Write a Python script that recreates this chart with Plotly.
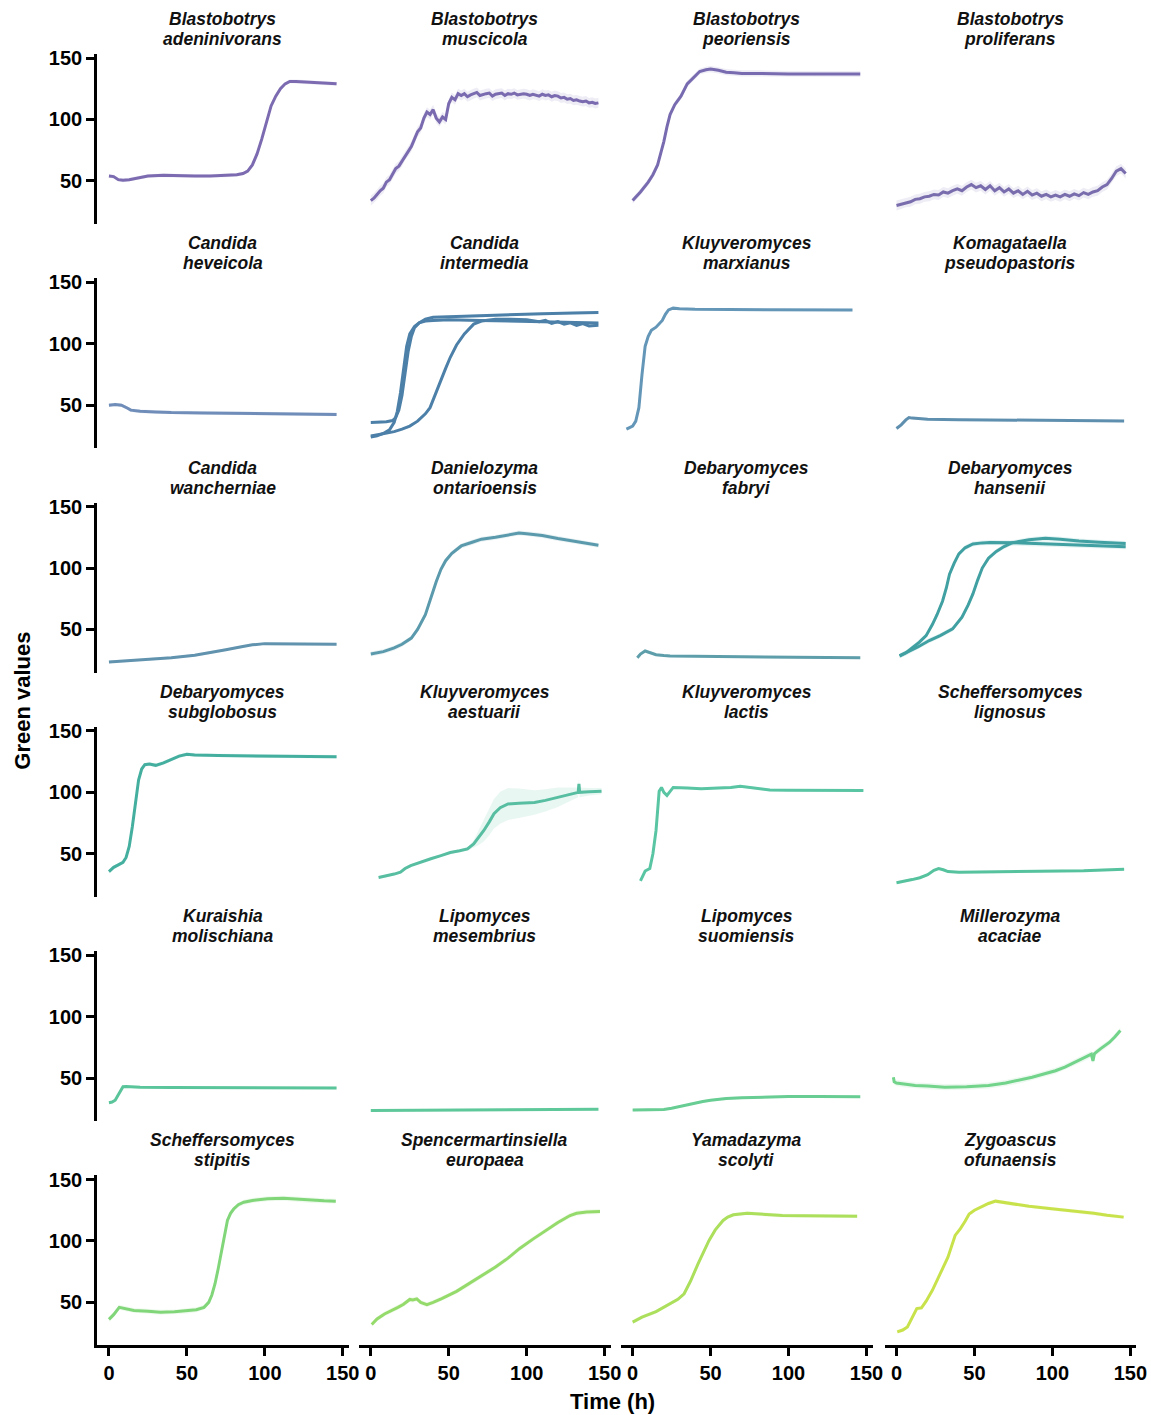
import plotly.graph_objects as go

# ---------------- data (time in h, green values) ----------------
t_b_aden = [0, 3, 6, 9, 13, 18, 25, 35, 45, 55, 65, 75, 82, 86, 89, 92, 95, 98, 101, 104, 107, 110, 113, 116, 120, 125, 130, 135, 140, 146]
g_b_aden = [54, 53.5, 51, 50.5, 51, 52.5, 54, 54.5, 54, 54, 54, 54.5, 55, 56, 58, 63, 72, 84, 98, 111, 119, 125, 129, 131, 131, 130.5, 130, 129.5, 129.5, 129]

t_b_musc = list(range(0, 148, 2))
g_b_musc = [34, 36, 39, 42, 44, 49, 51, 55, 60, 62, 66, 71, 74, 78, 84, 90, 93, 101, 106, 104,
            108, 101, 98, 102, 100, 113, 118, 116, 121, 119.5, 121, 118.5, 120, 121, 122, 119.5, 120.5, 121, 121.5, 119,
            120.5, 121, 121.5, 119.5, 121, 120.5, 121.5, 120, 120.5, 121, 120.5, 119.5, 120.5, 120, 119, 120.5, 119.5, 120, 118.5, 119.5,
            119, 117.5, 118, 116.5, 117, 115.5, 116, 115, 114.5, 115, 113.5, 114, 113, 113.5]

t_b_peor = [0, 5, 10, 13, 16, 18, 20, 22, 24, 27, 31, 35, 39, 43, 47, 50, 55, 60, 65, 70, 80, 90, 100, 110, 120, 130, 140, 146]
g_b_peor = [34, 41, 49, 55, 63, 72, 82, 94, 104, 112, 119, 129, 134, 139, 140.5, 141, 140, 138.5, 138, 137.5, 137.5, 137, 137, 137, 137, 137, 137, 137]

t_b_prol = list(range(0, 148, 3))
g_b_prol = [30, 31, 32.5, 33, 35, 35.5, 37, 37.5, 39, 38.5, 41, 40, 42, 43.5, 42, 45, 47, 44.5, 46, 43,
            46, 42, 44.5, 41, 43.5, 40, 42, 39, 41.5, 38.5, 40, 37.5, 39, 37, 38.5, 37, 39, 37.5, 39.5, 38,
            40.5, 39, 41, 42, 45, 47, 52, 58, 60, 56]

t_c_heve = [0, 4, 8, 10, 12, 14, 17, 20, 30, 40, 60, 80, 100, 120, 146]
g_c_heve = [50, 50.5, 50, 49, 47.5, 46, 45.3, 45, 44.5, 44, 43.7, 43.4, 43.2, 43, 42.5]

t_c_inte_a = [0, 5, 10, 14, 16, 18, 20, 22, 24, 26, 28, 31, 35, 40, 50, 70, 90, 110, 130, 146]
g_c_inte_a = [36, 36, 36.5, 37.5, 40, 46, 58, 76, 94, 106, 113, 117, 120, 121.5, 122, 122.5, 123.5, 124.5, 125, 125.5]
t_c_inte_b = [0, 4, 8, 12, 15, 17, 19, 21, 23, 25, 28, 31, 35, 40, 50, 70, 90, 110, 130, 146]
g_c_inte_b = [24, 25, 27, 30, 36, 45, 60, 80, 98, 108, 114, 117, 118.5, 119, 119.5, 119, 118.5, 118, 117.5, 117]
t_c_inte_c = [0, 5, 10, 15, 20, 25, 30, 35, 38, 41, 45, 48, 51, 55, 60, 66, 71, 80, 90, 100, 108, 112, 116, 120, 124, 128, 132, 136, 140, 146]
g_c_inte_c = [25, 26, 27, 28.5, 30.5, 33, 37, 43, 48, 58, 70, 80, 89, 99, 108, 116, 118.5, 120, 120, 119.5, 118, 119, 116.5, 118, 116, 117, 115, 116.5, 114.5, 115]

t_k_marx = [-4, -2, 0, 2, 4, 6, 8, 10, 12, 15, 17, 19, 21, 23, 26, 30, 40, 60, 80, 100, 120, 141]
g_k_marx = [30.5, 31.5, 33, 37, 48, 75, 98, 106, 111, 113.5, 116, 119, 124, 127.5, 129, 128.5, 128, 128, 128, 128, 128, 127.5]

t_k_pseu = [0, 3, 6, 8, 10, 14, 20, 40, 60, 80, 100, 120, 146]
g_k_pseu = [31, 34, 38, 40, 39.5, 39, 38.5, 38.2, 38, 37.8, 37.6, 37.4, 37.2]

t_c_wanc = [0, 20, 40, 55, 65, 75, 85, 92, 100, 110, 120, 146]
g_c_wanc = [23.5, 25, 27, 29, 31, 33.5, 36, 37.5, 38.5, 38.5, 38.5, 38]

t_d_onta = [0, 8, 15, 20, 26, 30, 35, 38, 42, 45, 48, 52, 58, 65, 71, 80, 90, 95, 100, 110, 120, 130, 140, 146]
g_d_onta = [30, 32, 35, 38, 43, 50, 62, 74, 89, 99, 106, 112, 118, 121, 123.5, 125, 127.5, 128.5, 128, 126.5, 124, 122, 120, 118.5]

t_d_fabr = [3, 5, 8, 11, 15, 20, 24, 40, 60, 80, 100, 120, 146]
g_d_fabr = [27, 30, 32.5, 31, 29.5, 28.8, 28.5, 28.2, 28, 27.8, 27.5, 27.3, 27]

t_d_hans_a = [2, 6, 10, 14.5, 19, 23, 26, 29.5, 32, 34, 37, 40, 44, 49, 55, 60, 80, 100, 120, 147]
g_d_hans_a = [28.5, 31, 35, 39.5, 45, 54, 62, 73, 84, 95, 104, 111.5, 116.5, 119.6, 120.5, 120.8, 120.5, 119.5, 118.5, 117.3]
t_d_hans_b = [2, 8, 14, 21, 28, 36, 42, 46, 49, 52, 55, 59, 64, 69, 74, 85, 95.5, 105, 117, 130, 147]
g_d_hans_b = [28.5, 32, 36, 41, 45, 50.5, 60, 70, 79, 90, 100, 108, 113.6, 117.5, 120.5, 123, 124.3, 123.5, 122, 121, 120]

t_d_subg = [0, 3, 6, 9, 11, 13, 15, 17, 19, 21, 23, 26, 30, 35, 40, 45, 50, 55, 70, 90, 110, 130, 146]
g_d_subg = [35.5, 39, 41, 43, 47, 56, 72, 92, 110, 119, 122.5, 123, 122, 124, 127, 129.5, 131, 130.5, 130, 129.8, 129.5, 129, 129]

t_k_aest = [5, 10, 15, 19, 22, 25.6, 30, 38.5, 45, 51, 57, 62, 66, 69, 72.5, 76, 79, 83, 88, 95, 105, 112, 120, 127, 133, 133.5, 134, 140, 148]
g_k_aest = [30.7, 32, 33.5, 35, 38, 40.4, 42.5, 46, 48.5, 51, 52.5, 54, 58, 63, 69, 76, 82.6, 87.5, 90.6, 91.2, 91.7, 93.5, 96, 98, 100, 107, 100, 100.5, 101]
sd_k_aest = [1, 1, 1, 1, 1, 1, 1, 1, 1, 1, 1, 1.5, 3, 6, 9, 11, 12, 13, 13, 12, 10, 9, 8, 6, 4, 4, 4, 3, 2.5]

t_k_lact = [5, 8, 11, 13, 15, 17, 18.5, 20, 22, 24, 26, 35, 44, 55, 63, 69, 75, 88, 100, 120, 148]
g_k_lact = [28, 36, 38, 50, 69, 101, 104, 100, 97.5, 101, 104, 103.5, 103, 103.5, 104, 105, 104, 102, 101.8, 101.6, 101.6]

t_s_lign = [0, 5, 10, 15, 20, 24, 27, 30, 33, 40, 60, 80, 100, 120, 146]
g_s_lign = [26.5, 27.5, 29, 30.5, 33, 36.5, 38, 37, 35.5, 35, 35.2, 35.5, 35.8, 36.3, 37.5]

t_k_moli = [0, 2, 4, 6, 7.5, 9, 11, 15, 20, 40, 60, 80, 100, 120, 146]
g_k_moli = [30, 30.5, 32, 36, 40, 43, 43.2, 42.8, 42.5, 42.3, 42.3, 42.4, 42.5, 42.2, 42]

t_l_mese = [0, 20, 40, 60, 80, 100, 120, 146]
g_l_mese = [23.7, 23.8, 24, 24.2, 24.4, 24.5, 24.6, 24.7]

t_l_suom = [0, 10, 20, 25, 30, 35, 40, 45, 50, 55, 60, 70, 80, 100, 120, 146]
g_l_suom = [24, 24, 24.5, 25.5, 27, 28.5, 30, 31, 32, 32.8, 33.4, 34, 34.5, 35, 35, 34.8]

t_m_acac = [-2, -1.5, 0, 5, 12, 20, 31, 45, 59, 70, 80, 87, 95, 102, 108, 114, 120, 125, 126, 127, 131, 136.5, 140, 143.6]
g_m_acac = [50.7, 47, 46, 45, 44, 43.5, 42.6, 43, 44, 46, 48.5, 50.7, 53.5, 56, 59, 62.5, 66, 69.5, 64, 70, 74, 79, 83.5, 88.7]

t_s_stip = [0, 3, 6.6, 10, 16, 25, 33, 42, 50, 56, 61, 64, 66, 68, 70, 72, 74, 76, 78, 80, 83, 86.5, 92, 101.7, 112, 120, 129.5, 138, 145.5]
g_s_stip = [36.2, 40, 46, 45, 43.5, 42.8, 42, 42.3, 43, 44, 46, 50, 56, 65, 77, 90, 103, 116.7, 122.5, 126, 129.5, 131.5, 133, 134.4, 134.8, 134, 133, 132.7, 132.4]

t_s_euro = [0.6, 4, 8.8, 13, 17.4, 21, 25, 27, 29.5, 32, 36, 40, 45.5, 55, 62.8, 70, 80, 88, 95.5, 104, 112.6, 120, 127.8, 132, 138.5, 147]
g_s_euro = [32, 36.5, 40.6, 43, 46, 48.5, 52.4, 52, 52.9, 50, 48.2, 50, 53, 59, 65, 70.5, 78.8, 86, 93.9, 101.5, 109, 115, 120.7, 122.5, 123.6, 124]

t_y_scol = [0, 6, 15, 24, 29, 33, 37, 42, 46, 49, 53, 58, 61, 64.6, 73.5, 85, 96, 110, 125, 144]
g_y_scol = [34, 38, 42.5, 49, 52.5, 57, 67, 81.5, 93, 100.4, 109, 116.7, 119.5, 121.3, 122.6, 121.5, 120.7, 120.5, 120.3, 120.2]

t_z_ofun = [0.5, 4, 7, 10, 13, 16, 19, 23, 28, 33, 37.6, 41, 44, 46.6, 50, 54.5, 59, 63.5, 68, 72.5, 85, 99.5, 113, 126.6, 135, 145.7]
g_z_ofun = [26, 27.5, 30, 37, 45, 45.5, 51, 59.8, 73, 86.8, 104.5, 110, 116, 122, 125, 128, 130.5, 132.4, 131.5, 130.3, 128.2, 126.2, 124.5, 122.6, 121, 119.4]

# (genus, species, curves, spread of replicates)
PANELS = [
    ("Blastobotrys", "adeninivorans", [(t_b_aden, g_b_aden)], 1.5),
    ("Blastobotrys", "muscicola", [(t_b_musc, g_b_musc)], 4),
    ("Blastobotrys", "peoriensis", [(t_b_peor, g_b_peor)], 2.5),
    ("Blastobotrys", "proliferans", [(t_b_prol, g_b_prol)], 4),
    ("Candida", "heveicola", [(t_c_heve, g_c_heve)], 1.5),
    ("Candida", "intermedia", [(t_c_inte_a, g_c_inte_a), (t_c_inte_b, g_c_inte_b), (t_c_inte_c, g_c_inte_c)], 1),
    ("Kluyveromyces", "marxianus", [(t_k_marx, g_k_marx)], 1),
    ("Komagataella", "pseudopastoris", [(t_k_pseu, g_k_pseu)], 1),
    ("Candida", "wancherniae", [(t_c_wanc, g_c_wanc)], 1),
    ("Danielozyma", "ontarioensis", [(t_d_onta, g_d_onta)], 2),
    ("Debaryomyces", "fabryi", [(t_d_fabr, g_d_fabr)], 1),
    ("Debaryomyces", "hansenii", [(t_d_hans_a, g_d_hans_a), (t_d_hans_b, g_d_hans_b)], 2),
    ("Debaryomyces", "subglobosus", [(t_d_subg, g_d_subg)], 1.5),
    ("Kluyveromyces", "aestuarii", [(t_k_aest, g_k_aest)], sd_k_aest),
    ("Kluyveromyces", "lactis", [(t_k_lact, g_k_lact)], 1),
    ("Scheffersomyces", "lignosus", [(t_s_lign, g_s_lign)], 1),
    ("Kuraishia", "molischiana", [(t_k_moli, g_k_moli)], 1),
    ("Lipomyces", "mesembrius", [(t_l_mese, g_l_mese)], 1),
    ("Lipomyces", "suomiensis", [(t_l_suom, g_l_suom)], 1),
    ("Millerozyma", "acaciae", [(t_m_acac, g_m_acac)], 2.5),
    ("Scheffersomyces", "stipitis", [(t_s_stip, g_s_stip)], 2),
    ("Spencermartinsiella", "europaea", [(t_s_euro, g_s_euro)], 2),
    ("Yamadazyma", "scolyti", [(t_y_scol, g_y_scol)], 1.5),
    ("Zygoascus", "ofunaensis", [(t_z_ofun, g_z_ofun)], 1.5),
]

COLORS = [
    "#7C6BB0", "#7A6AAF", "#786BB0", "#7A6DAD",
    "#6F8DB8", "#4D80A8", "#6496B8", "#5F8FAE",
    "#6193AE", "#5A9AAC", "#5D9EAA", "#41A0A2",
    "#45AF9F", "#58BEA1", "#5AC5A3", "#57C29E",
    "#5AC59A", "#5EC89A", "#68CD93", "#72D38A",
    "#82D67A", "#95DB6B", "#ABDF5C", "#C8E24C",
]

X_TICKS = [0, 50, 100, 150]
Y_TICKS = [50, 100, 150]

# ---------------- layout geometry (target pixels) ----------------
W, H = 1151, 1415
COL_LEFT = [96, 358, 620, 884]
COL_W = 252
ROW_TOP0, ROW_STEP, ROW_H = 53, 224.4, 170
X_RANGE = [-7.7, 153.85]
Y_RANGE = [15, 153.3]
FONT = "Liberation Sans, Arial, Helvetica, sans-serif"


def fx(x):
    # target pixel -> paper fraction (small empirical correction of the capture)
    return ((x + 1) / 0.991) / W


def fy(y):
    return 1 - ((y - 6) / 0.9955) / H


def rgba(hexc, a):
    h = hexc.lstrip("#")
    return "rgba(%d,%d,%d,%.3f)" % (int(h[0:2], 16), int(h[2:4], 16), int(h[4:6], 16), a)


fig = go.Figure()
layout = dict(
    width=W, height=H,
    margin=dict(l=0, r=0, t=0, b=0),
    paper_bgcolor="white", plot_bgcolor="white",
    showlegend=False,
    font=dict(family=FONT, color="black"),
)
annotations = []

for i, (genus, species, curves, sd) in enumerate(PANELS):
    r, c = divmod(i, 4)
    k = i + 1
    xa = "x" if k == 1 else "x%d" % k
    ya = "y" if k == 1 else "y%d" % k
    color = COLORS[i]
    for (t, g) in curves:
        s = sd if isinstance(sd, list) else [sd] * len(t)
        up = [gi + si for gi, si in zip(g, s)]
        lo = [gi - si for gi, si in zip(g, s)]
        fig.add_trace(go.Scatter(
            x=list(t) + list(t)[::-1], y=up + lo[::-1], fill="toself",
            fillcolor=rgba(color, 0.13), line=dict(width=0), mode="lines",
            hoverinfo="skip", xaxis=xa, yaxis=ya))
        fig.add_trace(go.Scatter(
            x=t, y=g, mode="lines", line=dict(color=color, width=3),
            xaxis=xa, yaxis=ya))

    left = COL_LEFT[c]
    top = ROW_TOP0 + r * ROW_STEP
    bottom = top + ROW_H
    xdom = [fx(left), fx(left + COL_W)]
    ydom = [fy(bottom), fy(top)]
    axis_style = dict(showline=True, linecolor="black", linewidth=2.6,
                      ticks="outside", ticklen=8, tickwidth=2.6, tickcolor="black",
                      showgrid=False, zeroline=False,
                      tickfont=dict(family=FONT, size=20, color="black", weight="bold"))
    xkey = "xaxis" if k == 1 else "xaxis%d" % k
    ykey = "yaxis" if k == 1 else "yaxis%d" % k
    layout[xkey] = dict(domain=xdom, range=X_RANGE, anchor=ya, visible=(r == 5),
                        tickvals=X_TICKS, **axis_style)
    layout[ykey] = dict(domain=ydom, range=Y_RANGE, anchor=xa, visible=(c == 0),
                        tickvals=Y_TICKS, **axis_style)

    cx = fx(left + COL_W / 2)
    for text, yc in ((genus, top - 35), (species, top - 15)):
        annotations.append(dict(
            text="<b><i>%s</i></b>" % text,
            xref="paper", yref="paper", x=cx, y=fy(yc),
            xanchor="center", yanchor="middle", showarrow=False,
            font=dict(family=FONT, size=17.5, color="#111111")))

annotations.append(dict(
    text="<b>Green values</b>", xref="paper", yref="paper",
    x=fx(22), y=fy(700), textangle=-90, showarrow=False,
    xanchor="center", yanchor="middle",
    font=dict(family=FONT, size=22, color="black")))
annotations.append(dict(
    text="<b>Time (h)</b>", xref="paper", yref="paper",
    x=fx(612), y=fy(1401), showarrow=False,
    xanchor="center", yanchor="middle",
    font=dict(family=FONT, size=22, color="black")))

layout["annotations"] = annotations
fig.update_layout(**layout)
fig.write_html(
    "out.html",
    config={"displayModeBar": False},
    post_script=("document.documentElement.style.margin='0px';"
                 "document.body.style.margin='0px';"
                 "document.documentElement.style.overflow='hidden';"
                 "document.body.style.overflow='hidden';"),
)
